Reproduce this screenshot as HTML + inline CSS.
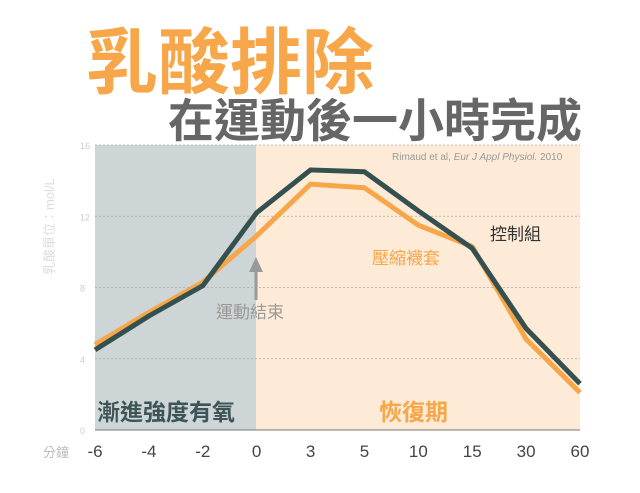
<!DOCTYPE html>
<html><head><meta charset="utf-8"><style>
body{margin:0;width:640px;height:488px;background:#fff;overflow:hidden;font-family:"Liberation Sans","Noto Sans CJK TC",sans-serif}
svg text{font-family:"Liberation Sans","Noto Sans CJK TC",sans-serif}
</style></head><body>
<svg id="chart" width="640" height="488">
<text x="86" y="88" font-size="72" font-weight="bold" fill="#f7a64a">乳酸排除</text>
<text x="168" y="137" font-size="46" font-weight="bold" fill="#666">在運動後一小時完成</text>
<rect x="95" y="145" width="161" height="285" fill="#ced5d6"/>
<rect x="256" y="145" width="324" height="285" fill="#fdebd7"/>
<g id="grid"></g>
<line x1="95" y1="430" x2="580" y2="430" stroke="#777" stroke-width="1"/>
<text x="392" y="160" font-size="10" fill="#999">Rimaud et al, <tspan font-style="italic">Eur J Appl Physiol.</tspan> 2010</text>
<text transform="translate(54,275) rotate(-90)" font-size="13" fill="#ddd">乳酸單位：mol/L</text>
<text x="43" y="457" font-size="13" fill="#bbb">分鐘</text>
<g id="xt"></g>
<path d="M256 272 V300" stroke="#999" stroke-width="3"/>
<polygon points="249,272 263,272 256,257" fill="#999"/>
<text x="216" y="318" font-size="17" fill="#999">運動結束</text>
<text x="97" y="420" font-size="23" font-weight="bold" fill="#3d5557">漸進強度有氧</text>
<text x="379" y="420" font-size="23" font-weight="bold" fill="#f7a64a">恢復期</text>
<text x="490" y="240" font-size="17" fill="#333">控制組</text>
<text x="372" y="264" font-size="17" fill="#f7a64a">壓縮襪套</text>
<g id="lines"></g>
</svg>
<script>
const categories=["-6","-4","-2","0","3","5","10","15","30","60"];
const control=[4.5,6.4,8.1,12.2,14.6,14.5,12.3,10.2,5.7,2.6];
const compression=[4.8,6.6,8.3,10.9,13.8,13.6,11.5,10.3,5.1,2.1];
const yTicks=[0,4,8,12,16];
const NS="http://www.w3.org/2000/svg";
const x=i=>95+i*(580-95)/(categories.length-1);
const y=v=>430-v*(285/16);
function mk(t,a,p){const e=document.createElementNS(NS,t);for(const k in a)e.setAttribute(k,a[k]);p.appendChild(e);return e;}
const g=document.getElementById('grid');
yTicks.forEach(v=>{
 if(v>0){const l=mk('line',{x1:95,x2:580,y1:y(v),y2:y(v),stroke:'#aaa','stroke-width':0.7,'stroke-dasharray':'2,2'},g);
 
 }
 const t=mk('text',{x:80,y:y(v)+4,'font-size':9,fill:'#ccc'},g);t.textContent=v;
 
 
});
const xt=document.getElementById('xt');
categories.forEach((c,i)=>{
 const t=mk('text',{x:x(i),y:457,'font-size':17,fill:'#444','text-anchor':'middle'},xt);t.textContent=c;
 
 
});
const L=document.getElementById('lines');
const pts=d=>d.map((v,i)=>x(i)+','+y(v)).join(' ');
const p1=mk('polyline',{points:pts(compression),fill:'none',stroke:'#f7a64a','stroke-width':5,'stroke-linejoin':'round'},L);


const p2=mk('polyline',{points:pts(control),fill:'none',stroke:'#35514f','stroke-width':5,'stroke-linejoin':'round'},L);


</script>
</body></html>
